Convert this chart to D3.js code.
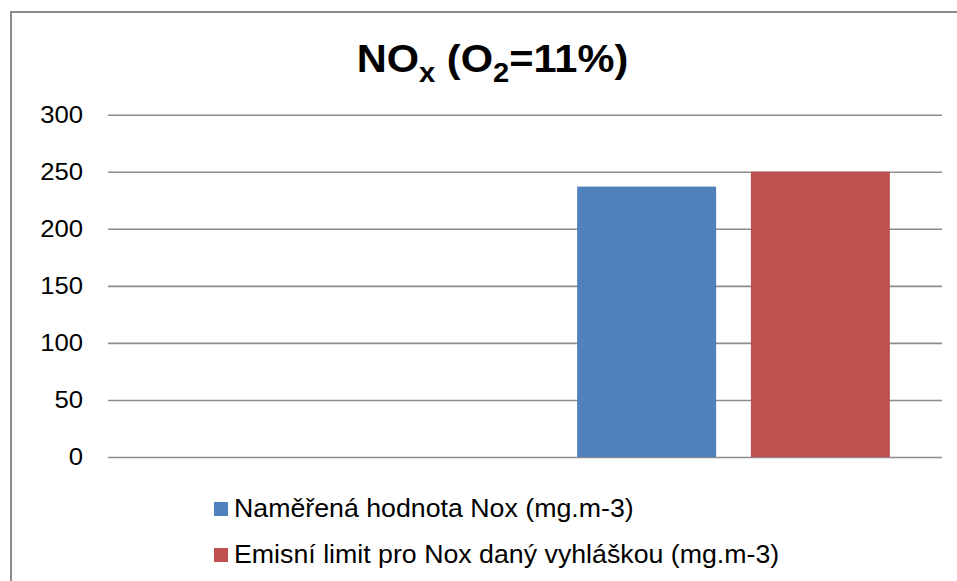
<!DOCTYPE html>
<html>
<head>
<meta charset="utf-8">
<script src="https://cdn.jsdelivr.net/npm/d3@7"></script>
<style>
  body { margin: 0; background: #fff; }
  text { font-family: "Liberation Sans", Arial, sans-serif; }
</style>
</head>
<body>
<div id="chart"></div>
<script>
// Data
const categories = ["1", "2"];
const seriesNames = [
  "Naměřená hodnota Nox (mg.m-3)",
  "Emisní limit pro Nox daný vyhláškou (mg.m-3)"
];
const measured = [null, 237];
const limit = [null, 250];
const yTicks = [0, 50, 100, 150, 200, 250, 300];
const colors = ["#4F81BD", "#C0504D"];

const width = 957, height = 581;
const margin = { top: 114.7, right: 15, bottom: 124, left: 108 };
const innerWidth = width - margin.left - margin.right;
const innerHeight = height - margin.top - margin.bottom;

// text in the picture is slightly wider than the font
const stretch = 1.07;

const data = categories.map((c, i) => ({ cat: c, values: [measured[i], limit[i]] }));

const svg = d3.select("#chart")
  .append("svg")
  .attr("width", width)
  .attr("height", height);

// chart area border: only the left and top edges are in the picture
svg.append("path")
  .attr("d", `M11,${height} V12 H${width}`)
  .attr("fill", "none")
  .attr("stroke", "#8c8c8c")
  .attr("stroke-width", 2);

// Title with subscripts
const title = svg.append("text")
  .attr("transform", `translate(492.5, 72) scale(1.08, 1)`)
  .attr("text-anchor", "middle")
  .attr("font-size", 38.5)
  .attr("font-weight", "bold")
  .attr("fill", "#000");
title.append("tspan").text("NO");
title.append("tspan").attr("font-size", 27).attr("dy", 10).text("x");
title.append("tspan").attr("dy", -10).text(" (O");
title.append("tspan").attr("font-size", 27).attr("dy", 10).text("2");
title.append("tspan").attr("dy", -10).text("=11%)");

const innerChart = svg.append("g")
  .attr("transform", `translate(${margin.left}, ${margin.top})`);

// Scales
const xScale = d3.scaleBand()
  .domain(categories)
  .range([0, innerWidth])
  .padding(0);

const xInner = d3.scaleBand()
  .domain(d3.range(seriesNames.length))
  .range([0, xScale.bandwidth()])
  .paddingInner(0.2)
  .paddingOuter(0.3);

const yScale = d3.scaleLinear()
  .domain([0, 300])
  .range([innerHeight, 0]);

// Gridlines + y labels
const leftAxis = d3.axisLeft(yScale)
  .tickValues(yTicks)
  .tickSize(-innerWidth)
  .tickPadding(25);

const yAxisG = innerChart.append("g").call(leftAxis);
yAxisG.select(".domain").remove();
yAxisG.selectAll(".tick line")
  .attr("stroke", "#8c8c8c")
  .attr("stroke-width", 1.6);
yAxisG.selectAll(".tick text")
  .attr("x", null)
  .attr("transform", `translate(-25, 0) scale(${stretch}, 1)`)
  .attr("font-size", 24)
  .attr("fill", "#000")
  .attr("font-family", "'Liberation Sans', Arial, sans-serif");

// Bars
const groups = innerChart.selectAll(".cat")
  .data(data)
  .join("g")
    .attr("transform", d => `translate(${xScale(d.cat)}, 0)`);

groups.selectAll("rect")
  .data(d => d.values.map((v, i) => ({ v, i })).filter(e => e.v != null))
  .join("rect")
    .attr("x", d => xInner(d.i))
    .attr("y", d => yScale(d.v))
    .attr("width", xInner.bandwidth())
    .attr("height", d => yScale(0) - yScale(d.v))
    .attr("fill", d => colors[d.i]);

// Legend
const legend = svg.append("g")
  .attr("transform", "translate(214, 502)");

const items = legend.selectAll("g")
  .data(seriesNames)
  .join("g")
    .attr("transform", (d, i) => `translate(0, ${i * 46})`);

items.append("rect")
  .attr("width", 14)
  .attr("height", 14)
  .attr("fill", (d, i) => colors[i]);

items.append("text")
  .attr("transform", `translate(20, 15) scale(${stretch}, 1)`)
  .attr("font-size", 25)
  .attr("fill", "#000")
  .text(d => d);
</script>
</body>
</html>
